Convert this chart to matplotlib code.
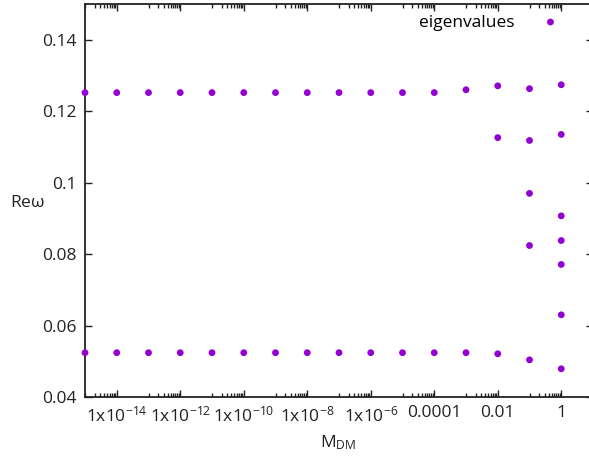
import numpy as np
import matplotlib
matplotlib.use("Agg")
import matplotlib.pyplot as plt
from matplotlib.ticker import FixedLocator, NullFormatter

plt.rcParams['font.family'] = ['Open Sans', 'DejaVu Sans']
plt.rcParams['mathtext.fontset'] = 'custom'
plt.rcParams['mathtext.rm'] = 'Open Sans'
plt.rcParams['mathtext.it'] = 'Open Sans'

# eigenvalues (Re omega) vs M_DM
m_common = [1e-15, 1e-14, 1e-13, 1e-12, 1e-11, 1e-10, 1e-9, 1e-8,
            1e-7, 1e-6, 1e-5, 1e-4, 1e-3, 1e-2, 1e-1, 1.0]
upper = [0.1252, 0.1252, 0.1252, 0.1252, 0.1252, 0.1252, 0.1252, 0.1252,
         0.1252, 0.1252, 0.1252, 0.1252, 0.1260, 0.1271, 0.1263, 0.1274]
lower = [0.0524, 0.0524, 0.0524, 0.0524, 0.0524, 0.0524, 0.0524, 0.0524,
         0.0524, 0.0524, 0.0524, 0.0524, 0.0524, 0.0521, 0.0504, 0.0479]
m_extra = [1e-2, 1e-1, 1e-1, 1e-1, 1.0, 1.0, 1.0, 1.0, 1.0]
extra = [0.1126, 0.1118, 0.0970, 0.0824, 0.1135, 0.0907, 0.0838, 0.0771, 0.0630]

x_all = np.concatenate([m_common, m_common, m_extra])
y_all = np.concatenate([upper, lower, extra])

major_ticks = [1e-14, 1e-12, 1e-10, 1e-8, 1e-6, 1e-4, 1e-2, 1.0]
major_labels = [r'1x10$^{-14}$', r'1x10$^{-12}$', r'1x10$^{-10}$',
                r'1x10$^{-8}$', r'1x10$^{-6}$', '0.0001', '0.01', '1']

color = '#9400d3'
fs = 12.5

fig = plt.figure(figsize=(5.89, 4.61), dpi=100, facecolor='white')
ax = fig.add_axes([85/589, 64/461, 508/589, 393/461])
ax.scatter(x_all, y_all, s=24, color=color, edgecolors='none',
           zorder=5, clip_on=False, label='eigenvalues')

ax.set_xscale('log')
ax.set_xlim(1e-15, 10)
ax.set_ylim(0.04, 0.15)

minor = []
for base in [1e-16, 1e-14, 1e-12, 1e-10, 1e-8, 1e-6, 1e-4, 1e-2, 1.0]:
    for k in range(1, 10):
        v = base * 10 * k
        if v not in major_ticks:
            minor.append(v)
ax.xaxis.set_major_locator(FixedLocator(major_ticks))
ax.xaxis.set_minor_locator(FixedLocator(minor))
ax.xaxis.set_minor_formatter(NullFormatter())
ax.set_xticklabels(major_labels)
ax.set_yticks([0.04, 0.06, 0.08, 0.1, 0.12, 0.14])
ax.set_yticklabels(['0.04', '0.06', '0.08', '0.1', '0.12', '0.14'])

ax.tick_params(direction='in', which='both', top=True, right=True,
               labelsize=fs, colors='#222222', width=1)
ax.tick_params(which='major', length=5, pad=6)
ax.tick_params(which='minor', length=3)
for sp in ax.spines.values():
    sp.set_linewidth(1.3)
    sp.set_color('#222222')

fig.text(27/589, 1 - 203/461, r'Re$\omega$', fontsize=fs,
         ha='center', va='center', color='#222222')
fig.text(338/589, 1 - 443/461, r'M$_{\mathrm{DM}}$', fontsize=fs,
         ha='center', va='center', color='#222222')

ax.legend(loc='upper right', bbox_to_anchor=(0.971, 1.0), frameon=False,
          markerfirst=False, fontsize=fs, handletextpad=1.1,
          borderaxespad=0.2)

fig.savefig('out.png', dpi=100)
